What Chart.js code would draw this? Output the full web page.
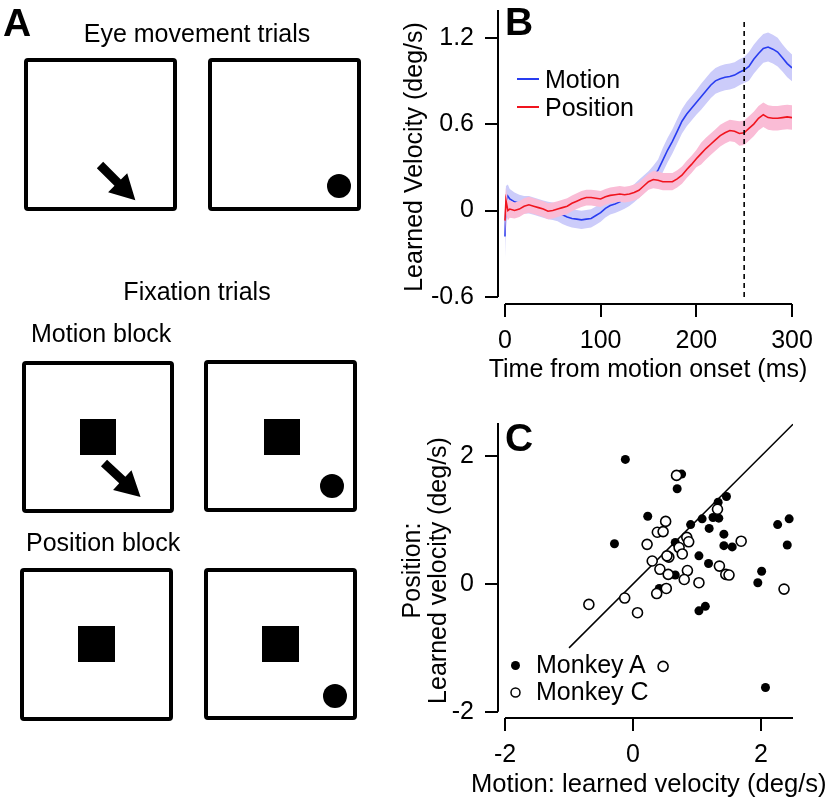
<!DOCTYPE html>
<html>
<head>
<meta charset="utf-8">
<script src="https://cdn.jsdelivr.net/npm/chart.js@4.4.1/dist/chart.umd.min.js"></script>
<style>
  html, body { margin: 0; padding: 0; background: #fff; }
  body { width: 826px; height: 798px; position: relative; overflow: hidden; }
  canvas { position: absolute; }
  #chartB { left: 400px; top: 0; }
  #chartC { left: 400px; top: 400px; }
  svg { position: absolute; left: 0; top: 0; pointer-events: none; }
</style>
</head>
<body>
<canvas id="chartB" width="426" height="400"></canvas>
<canvas id="chartC" width="426" height="398"></canvas>

<svg width="826" height="798" font-family="'Liberation Sans', Arial, Helvetica, sans-serif">
  <!-- panel letters -->
  <text x="3" y="36" font-size="39" font-weight="bold">A</text>
  <text x="505" y="35" font-size="39" font-weight="bold">B</text>
  <text x="505" y="451" font-size="39" font-weight="bold">C</text>

  <!-- panel A: task schematic -->
  <g font-size="25">
    <text x="197" y="42" text-anchor="middle">Eye movement trials</text>
    <text x="197" y="300" text-anchor="middle">Fixation trials</text>
    <text x="31" y="342">Motion block</text>
    <text x="26" y="551">Position block</text>
  </g>
  <g fill="none" stroke="#000" stroke-width="4">
    <rect x="26" y="60" width="149" height="149" rx="2"/>
    <rect x="210" y="60" width="149" height="149" rx="2"/>
    <rect x="24" y="363" width="148" height="148" rx="2"/>
    <rect x="206" y="362" width="149" height="148" rx="2"/>
    <rect x="22" y="570" width="149" height="149" rx="2"/>
    <rect x="206" y="570" width="149" height="148" rx="2"/>
  </g>
  <g fill="#000">
    <polygon points="0,-4.5 25,-4.5 25,-13.5 50,0 25,13.5 25,4.5 0,4.5" transform="translate(100,165) rotate(45)"/>
    <polygon points="0,-4.5 25,-4.5 25,-13.5 50,0 25,13.5 25,4.5 0,4.5" transform="translate(104,463) rotate(43)"/>
    <circle cx="339" cy="186" r="12"/>
    <circle cx="332" cy="486" r="12"/>
    <circle cx="335" cy="696" r="12"/>
    <rect x="80" y="419" width="36" height="36"/>
    <rect x="264" y="419" width="36" height="36"/>
    <rect x="78" y="626" width="37" height="36"/>
    <rect x="262" y="626" width="37" height="36"/>
  </g>

  <!-- x axis titles (kept out of Chart.js so they are not squeezed to the axis width) -->
  <text x="648" y="377" font-size="25" text-anchor="middle">Time from motion onset (ms)</text>
  <text x="471" y="792" font-size="25.6">Motion: learned velocity (deg/s)</text>

  <!-- legend B -->
  <line x1="517" y1="79" x2="539" y2="79" stroke="rgb(40,60,240)" stroke-width="2"/>
  <line x1="517" y1="107" x2="539" y2="107" stroke="rgb(240,20,30)" stroke-width="2"/>
  <text x="545" y="88" font-size="25">Motion</text>
  <text x="545" y="116" font-size="25">Position</text>

  <!-- legend C -->
  <circle cx="515.5" cy="665.5" r="4.5" fill="#000"/>
  <circle cx="515.5" cy="692.5" r="4.5" fill="#fff" stroke="#000" stroke-width="1.5"/>
  <text x="536" y="673" font-size="25">Monkey A</text>
  <text x="536" y="700" font-size="25">Monkey C</text>
</svg>

<script>
// ---- panel B: learned velocity over time ----
const timeMs = [0, 1, 3, 5, 10, 15, 20, 25, 30, 35, 40, 45, 50, 55, 60, 65, 70, 75, 80, 85, 90, 95,
  100, 105, 110, 115, 120, 125, 130, 135, 140, 145, 150, 155, 160, 165, 170, 175, 180, 185, 190, 195,
  200, 205, 210, 215, 220, 225, 230, 235, 240, 245, 250, 255, 260, 265, 270, 275, 280, 285, 290, 295, 300];

const motionVel = [-0.18, 0.05, 0.1, 0.08, 0.06, 0.05, 0.04, 0.04, 0.03, 0.02, 0.01, 0.0, -0.005, -0.015,
  -0.03, -0.045, -0.055, -0.06, -0.065, -0.06, -0.055, -0.035, -0.015, 0.015, 0.035, 0.045, 0.06, 0.075,
  0.095, 0.12, 0.15, 0.18, 0.21, 0.24, 0.28, 0.35, 0.42, 0.48, 0.55, 0.62, 0.67, 0.71, 0.75, 0.79, 0.83,
  0.87, 0.9, 0.915, 0.925, 0.93, 0.94, 0.96, 0.975, 1.0, 1.05, 1.09, 1.125, 1.135, 1.12, 1.1, 1.06, 1.02, 0.99];

const motionSem = [0.15, 0.12, 0.08, 0.07, 0.065, 0.06, 0.06, 0.06, 0.06, 0.06, 0.06, 0.06, 0.06, 0.06,
  0.063, 0.063, 0.063, 0.063, 0.063, 0.063, 0.063, 0.063, 0.063, 0.063, 0.063, 0.063, 0.063, 0.063,
  0.063, 0.063, 0.063, 0.063, 0.063, 0.07, 0.075, 0.085, 0.085, 0.085, 0.085, 0.085, 0.085, 0.085,
  0.085, 0.09, 0.09, 0.09, 0.09, 0.09, 0.09, 0.09, 0.09, 0.09, 0.09, 0.1, 0.1, 0.1, 0.1, 0.1, 0.1, 0.1,
  0.095, 0.095, 0.093];

const positionVel = [-0.07, 0.07, 0.0, 0.01, 0.0, 0.01, 0.03, 0.04, 0.03, 0.02, 0.01, -0.005, 0.0, 0.01,
  0.02, 0.03, 0.05, 0.065, 0.08, 0.09, 0.09, 0.085, 0.08, 0.095, 0.105, 0.11, 0.115, 0.11, 0.115, 0.125,
  0.14, 0.17, 0.2, 0.215, 0.21, 0.2, 0.2, 0.2, 0.22, 0.245, 0.285, 0.32, 0.36, 0.395, 0.43, 0.46, 0.49,
  0.52, 0.54, 0.555, 0.55, 0.535, 0.54, 0.57, 0.6, 0.64, 0.665, 0.645, 0.64, 0.64, 0.645, 0.65, 0.645];

const positionSem = [0.12, 0.09, 0.07, 0.06, 0.055, 0.055, 0.055, 0.055, 0.055, 0.055, 0.055, 0.055,
  0.055, 0.055, 0.055, 0.055, 0.055, 0.055, 0.055, 0.055, 0.055, 0.055, 0.055, 0.055, 0.055, 0.055,
  0.055, 0.055, 0.055, 0.055, 0.055, 0.055, 0.055, 0.06, 0.06, 0.06, 0.06, 0.06, 0.06, 0.06, 0.06,
  0.06, 0.06, 0.075, 0.075, 0.075, 0.075, 0.075, 0.075, 0.075, 0.075, 0.085, 0.085, 0.085, 0.085,
  0.085, 0.085, 0.085, 0.085, 0.085, 0.085, 0.085, 0.085];

const dashX = [250, 250];
const dashY = [-0.6, 1.31];
const timeTicks = [0, 100, 200, 300];
const velTicks = [-0.6, 0, 0.6, 1.2];

// ---- panel C: motion vs position learning ----
const monkeyAx = [-0.12, 0.76, 0.69, 0.23, -0.29, 1.46, 1.33, 1.08, 1.34, 1.25, 0.90, 1.19, 1.42, 1.42,
  1.55, 1.03, 1.18, 0.66, 0.66, 2.26, 2.44, 2.41, 2.01, 1.95, 1.13, 1.03, 2.07, 0.41];
const monkeyAy = [1.95, 1.72, 1.49, 1.06, 0.63, 1.37, 1.28, 1.02, 1.03, 1.04, 0.93, 0.87, 0.78, 0.60,
  0.58, 0.44, 0.32, 0.65, 0.14, 0.93, 1.02, 0.61, 0.20, 0.02, -0.35, -0.42, -1.62, -0.07];
const monkeyCx = [0.68, 1.32, 0.51, 0.38, 0.47, 0.22, 0.84, 0.87, 0.72, 0.77, 0.56, 0.53, 0.30, 0.42,
  0.55, 0.85, 0.80, 1.03, 1.35, 1.45, 1.50, 1.69, 0.52, 0.37, -0.13, -0.69, 0.07, 2.36, 0.47];
const monkeyCy = [1.70, 1.17, 0.98, 0.81, 0.82, 0.62, 0.73, 0.66, 0.57, 0.47, 0.42, 0.44, 0.36, 0.23,
  0.15, 0.21, 0.07, 0.02, 0.28, 0.15, 0.14, 0.67, -0.07, -0.15, -0.22, -0.32, -0.45, -0.08, -1.29];
const unityX = [-1, 2.5];
const unityY = [-1, 2.5];
const learnTicks = [-2, 0, 2];

const pts = (xs, ys) => xs.map((x, i) => ({ x: x, y: ys[i] }));
const band = (vals, sem, sign) => vals.map((v, i) => v + sign * sem[i]);

Chart.defaults.font.family = "'Liberation Sans', Arial, Helvetica, sans-serif";
Chart.defaults.font.size = 25;
Chart.defaults.color = '#000';

// detached axis lines, drawn between given data values
const axisLines = {
  id: 'axisLines',
  afterDraw(chart, args, opts) {
    const { ctx, chartArea } = chart;
    const xs = chart.scales.x, ys = chart.scales.y;
    ctx.save();
    ctx.strokeStyle = '#000';
    ctx.lineWidth = 2;
    ctx.beginPath();
    ctx.moveTo(chartArea.left, ys.getPixelForValue(opts.yFrom));
    ctx.lineTo(chartArea.left, ys.getPixelForValue(opts.yTo));
    ctx.moveTo(xs.getPixelForValue(opts.xFrom), chartArea.bottom);
    ctx.lineTo(xs.getPixelForValue(opts.xTo), chartArea.bottom);
    ctx.stroke();
    ctx.restore();
  }
};

const axisGrid = { drawOnChartArea: false, color: '#000', lineWidth: 2, tickLength: 13 };

new Chart(document.getElementById('chartB'), {
  type: 'line',
  data: {
    datasets: [
      { label: 'Position', data: pts(timeMs, positionVel), borderColor: 'rgb(240,20,30)', borderWidth: 1.6,
        pointRadius: 0, fill: false, order: 1 },
      { label: 'pos hi', data: pts(timeMs, band(positionVel, positionSem, 1)), borderWidth: 0, pointRadius: 0,
        fill: '+1', backgroundColor: 'rgb(250,188,214)', order: 2 },
      { label: 'pos lo', data: pts(timeMs, band(positionVel, positionSem, -1)), borderWidth: 0, pointRadius: 0,
        fill: false, order: 2 },
      { label: 'Motion', data: pts(timeMs, motionVel), borderColor: 'rgb(40,60,240)', borderWidth: 1.6,
        pointRadius: 0, fill: false, order: 3 },
      { label: 'mot hi', data: pts(timeMs, band(motionVel, motionSem, 1)), borderWidth: 0, pointRadius: 0,
        fill: '+1', backgroundColor: 'rgb(204,204,250)', order: 4 },
      { label: 'mot lo', data: pts(timeMs, band(motionVel, motionSem, -1)), borderWidth: 0, pointRadius: 0,
        fill: false, order: 4 },
      { label: 'window', data: pts(dashX, dashY), borderColor: '#000', borderWidth: 1.6, borderDash: [5, 4],
        pointRadius: 0, fill: false, order: 0 }
    ]
  },
  options: {
    responsive: false,
    animation: false,
    events: [],
    layout: { padding: { left: 0, top: 10, right: 34, bottom: 17 }, autoPadding: false },
    plugins: {
      legend: { display: false },
      tooltip: { enabled: false },
      axisLines: { xFrom: 0, xTo: 300, yFrom: -0.6, yTo: 1.392 }
    },
    scales: {
      x: {
        type: 'linear', min: -7.3, max: 300,
        afterBuildTicks: s => { s.ticks = timeTicks.map(v => ({ value: v })); },
        afterFit: s => { s.height = 79; s.paddingLeft = 0; s.paddingRight = 0; },
        grid: axisGrid,
        border: { display: false },
        ticks: { padding: 9, maxRotation: 0, autoSkip: false, callback: v => String(v) }
      },
      y: {
        min: -0.649, max: 1.392,
        afterBuildTicks: s => { s.ticks = velTicks.map(v => ({ value: v })); },
        afterFit: s => { s.width = 98; s.paddingTop = 0; s.paddingBottom = 0; },
        grid: axisGrid,
        border: { display: false },
        ticks: { padding: 11, autoSkip: false, callback: v => (v === 0 ? '0' : v.toFixed(1)) },
        title: { display: true, text: 'Learned Velocity (deg/s)', padding: 0 }
      }
    }
  },
  plugins: [axisLines]
});

new Chart(document.getElementById('chartC'), {
  type: 'scatter',
  data: {
    datasets: [
      { label: 'Monkey C', data: pts(monkeyCx, monkeyCy), pointRadius: 5, pointBackgroundColor: '#fff',
        pointBorderColor: '#000', pointBorderWidth: 1.6, clip: false, order: 0 },
      { label: 'Monkey A', data: pts(monkeyAx, monkeyAy), pointRadius: 4.5, pointBackgroundColor: '#000',
        pointBorderWidth: 0, clip: false, order: 1 },
      { label: 'unity', data: pts(unityX, unityY), showLine: true, borderColor: '#000', borderWidth: 1.5,
        pointRadius: 0, order: 2 }
    ]
  },
  options: {
    responsive: false,
    animation: false,
    events: [],
    layout: { padding: { left: 0, top: 23, right: 33, bottom: 0 }, autoPadding: false },
    plugins: {
      legend: { display: false },
      tooltip: { enabled: false },
      axisLines: { xFrom: -2, xTo: 2.5, yFrom: -2, yTo: 2.52 }
    },
    scales: {
      x: {
        type: 'linear', min: -2.11, max: 2.5,
        afterBuildTicks: s => { s.ticks = learnTicks.map(v => ({ value: v })); },
        afterFit: s => { s.height = 80; s.paddingLeft = 0; s.paddingRight = 0; },
        grid: axisGrid,
        border: { display: false },
        ticks: { padding: 9, maxRotation: 0, autoSkip: false, callback: v => String(v) }
      },
      y: {
        min: -2.098, max: 2.52,
        afterBuildTicks: s => { s.ticks = learnTicks.map(v => ({ value: v })); },
        afterFit: s => { s.width = 98; s.paddingTop = 0; s.paddingBottom = 0; },
        grid: axisGrid,
        border: { display: false },
        ticks: { padding: 11, autoSkip: false, callback: v => String(v) },
        title: { display: true, text: ['Position:', 'Learned velocity (deg/s)'], padding: 0,
          font: { size: 25, lineHeight: 1.05 } }
      }
    }
  },
  plugins: [axisLines]
});
</script>
</body>
</html>
